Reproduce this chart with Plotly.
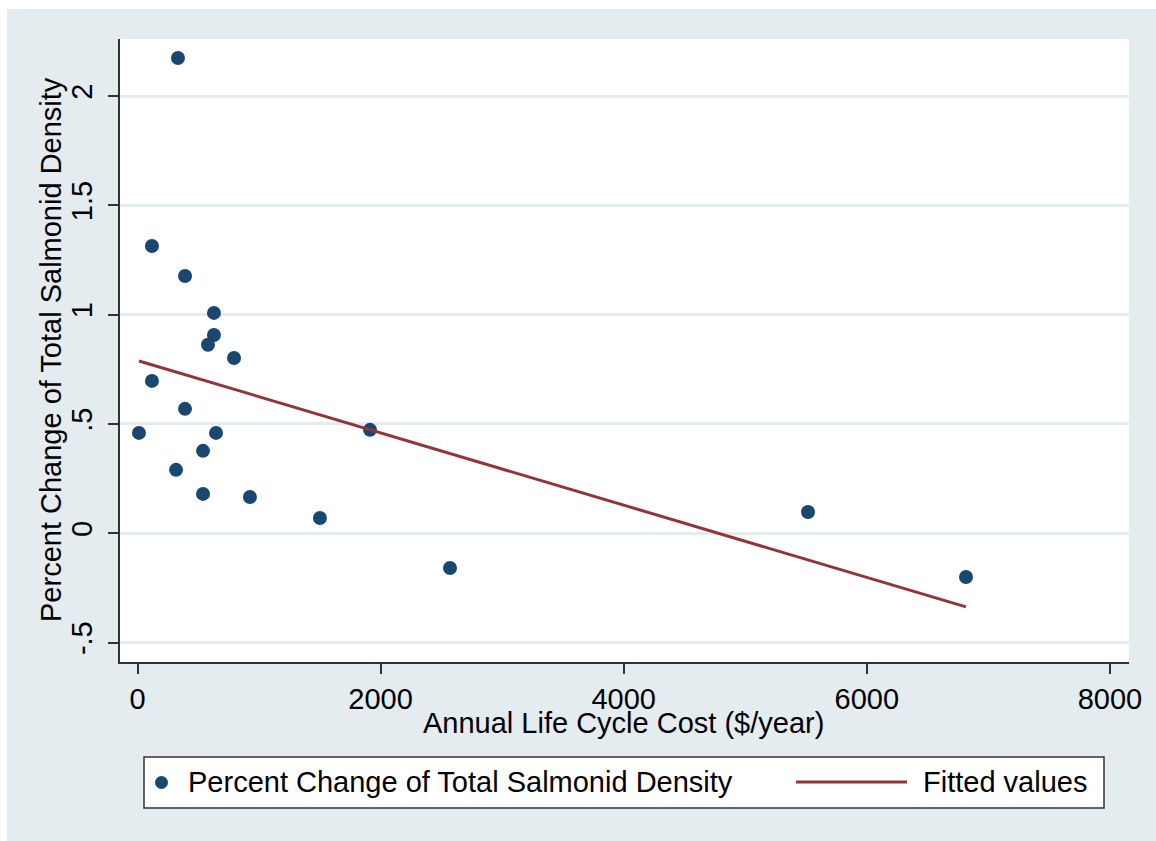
import plotly.graph_objects as go

# Annual life-cycle cost ($/year) and percent change of total salmonid density
cost = [333, 119, 391, 629, 629, 580, 794, 119, 391, 12,
        646, 539, 317, 539, 925, 1501, 1913, 2571, 5516, 6816]
density_change = [2.174, 1.314, 1.177, 1.008, 0.907, 0.862, 0.802, 0.697, 0.569, 0.459,
                  0.459, 0.377, 0.290, 0.180, 0.166, 0.070, 0.473, -0.159, 0.097, -0.200]

# Linear fit (fitted values at the extreme costs)
fit_cost = [12, 6816]
fit_value = [0.788, -0.337]

y_tickvals = [-0.5, 0, 0.5, 1, 1.5, 2]
y_ticktext = ["-.5", "0", ".5", "1", "1.5", "2"]
x_tickvals = [0, 2000, 4000, 6000, 8000]

NAVY = "#1a476f"
MAROON = "#90353b"
BG = "#e4ecf0"
GRID = "#e4ecf0"
AXIS = "#333333"
FONT = "Liberation Sans, Arial, sans-serif"
FS = 29

W, H = 1156, 841
L, R, T, B = 120, 1129, 39, 662


def px(x):
    return (x - L) / (R - L)


def py(y):
    return (B - y) / (B - T)


fig = go.Figure()
fig.add_trace(go.Scatter(
    x=cost, y=density_change, mode="markers",
    marker=dict(color=NAVY, size=14, line=dict(width=0)),
    name="Percent Change of Total Salmonid Density", showlegend=False,
))
fig.add_trace(go.Scatter(
    x=fit_cost, y=fit_value, mode="lines",
    line=dict(color=MAROON, width=3),
    name="Fitted values", showlegend=False,
))

shapes = [
    # white frame strips around the graph region
    dict(type="rect", xref="paper", yref="paper", x0=px(-5), x1=px(7), y0=py(-5), y1=py(850),
         fillcolor="white", line=dict(width=0), layer="below"),
    dict(type="rect", xref="paper", yref="paper", x0=px(-5), x1=px(1160), y0=py(-5), y1=py(9),
         fillcolor="white", line=dict(width=0), layer="below"),
    # legend box
    dict(type="rect", xref="paper", yref="paper", x0=px(144), x1=px(1104), y0=py(808), y1=py(757),
         fillcolor="white", line=dict(color=AXIS, width=1.5)),
    # legend line sample
    dict(type="line", xref="paper", yref="paper", x0=px(796), x1=px(907), y0=py(782), y1=py(782),
         line=dict(color=MAROON, width=3)),
    # legend marker sample
    dict(type="circle", xref="paper", yref="paper", x0=px(155), x1=px(168), y0=py(789), y1=py(776),
         fillcolor=NAVY, line=dict(width=0)),
]

annotations = [
    dict(text="Percent Change of Total Salmonid Density", xref="paper", yref="paper",
         x=px(186), y=py(782), xanchor="left", yanchor="middle", showarrow=False,
         font=dict(family=FONT, size=FS, color="black")),
    dict(text="Fitted values", xref="paper", yref="paper",
         x=px(921), y=py(782), xanchor="left", yanchor="middle", showarrow=False,
         font=dict(family=FONT, size=FS, color="black")),
    # axis titles
    dict(text="Annual Life Cycle Cost ($/year)", xref="paper", yref="paper",
         x=px(623), y=py(723), xanchor="center", yanchor="middle", showarrow=False,
         font=dict(family=FONT, size=FS, color="black")),
    dict(text="Percent Change of Total Salmonid Density", xref="paper", yref="paper",
         x=px(51), y=py(350), xanchor="center", yanchor="middle", showarrow=False,
         textangle=-90, font=dict(family=FONT, size=FS, color="black")),
]

fig.update_layout(
    width=W, height=H,
    margin=dict(l=L, r=W - R, t=T, b=H - B, pad=0),
    paper_bgcolor=BG, plot_bgcolor="white",
    font=dict(family=FONT, size=FS, color="black"),
    shapes=shapes, annotations=annotations,
    showlegend=False,
    xaxis=dict(
        range=[-144, 8157], tickvals=x_tickvals, showgrid=False, zeroline=False,
        showline=True, linecolor=AXIS, linewidth=2, ticks="outside", ticklen=10,
        tickwidth=1.5, tickcolor=AXIS, tickfont=dict(size=FS),
    ),
    yaxis=dict(
        range=[-0.589, 2.261], tickvals=y_tickvals, ticktext=y_ticktext, tickangle=-90,
        showgrid=True, gridcolor=GRID, gridwidth=2.5, zeroline=False,
        showline=True, linecolor=AXIS, linewidth=2, ticks="outside", ticklen=10,
        tickwidth=1.5, tickcolor=AXIS, tickfont=dict(size=FS), ticklabelstandoff=4,
    ),
)

fig.write_html("out.html")
